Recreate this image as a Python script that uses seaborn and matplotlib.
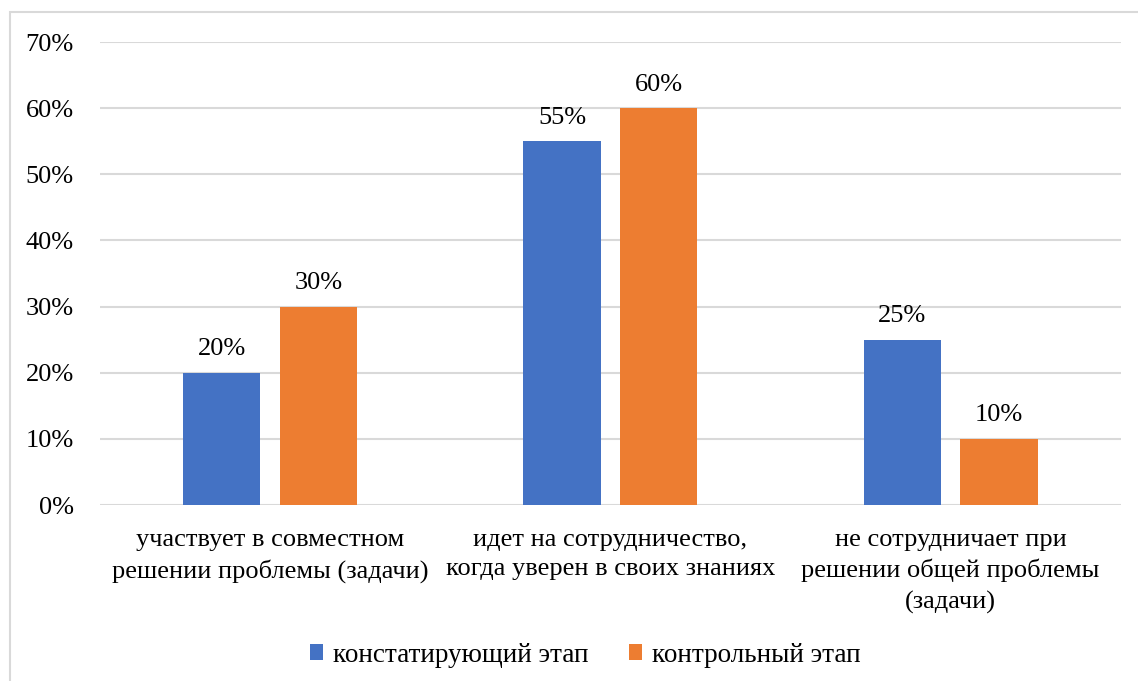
import matplotlib
matplotlib.use("Agg")
import matplotlib.pyplot as plt
import seaborn as sns
import pandas as pd
from matplotlib.patches import Rectangle
from matplotlib.ticker import PercentFormatter

# Данные диаграммы
categories = [
    "участвует в совместном\nрешении проблемы (задачи)",
    "идет на сотрудничество,\nкогда уверен в своих знаниях",
    "не сотрудничает при\nрешении общей проблемы\n(задачи)",
]
series_names = ["констатирующий этап", "контрольный этап"]
stage1 = [20, 55, 25]
stage2 = [30, 60, 10]
colors = ["#4472C4", "#ED7D31"]

df = pd.DataFrame({
    "Категория": categories * 2,
    "Этап": [series_names[0]] * 3 + [series_names[1]] * 3,
    "Значение": stage1 + stage2,
})

sns.set_style("white")
plt.rcParams["font.family"] = ["Liberation Serif", "DejaVu Serif"]
plt.rcParams["text.color"] = "black"
plt.rcParams["xtick.color"] = "black"
plt.rcParams["ytick.color"] = "black"

fig = plt.figure(figsize=(11.38, 6.81), dpi=100)
ax = fig.add_axes([0.0879, 0.2584, 0.897, 0.6799])

sns.barplot(data=df, x="Категория", y="Значение", hue="Этап",
            palette=colors, saturation=1, width=0.568, gap=0.2,
            linewidth=0, ax=ax, legend=True)

ax.set_ylim(0, 70)
ax.set_xlim(-0.5, 2.5)
ax.set_yticks(range(0, 71, 10))
ax.yaxis.set_major_formatter(PercentFormatter(decimals=0))
ax.grid(axis="y", color="#D9D9D9", linewidth=1.5)
ax.set_axisbelow(True)
for s in ax.spines.values():
    s.set_visible(False)
ax.tick_params(axis="both", length=0, labelsize=19, labelcolor="black")
ax.tick_params(axis="y", pad=19)
ax.tick_params(axis="x", pad=17)
for t in ax.get_xticklabels():
    t.set_linespacing(1.45)
ax.set_xlabel("")
ax.set_ylabel("")

for cont in ax.containers:
    ax.bar_label(cont, labels=[f"{v:.0f}%" for v in cont.datavalues],
                 fontsize=19, padding=9, color="black")

handles, labels = ax.get_legend_handles_labels()
ax.legend(handles, labels, loc="center", bbox_to_anchor=(585 / 1138, 1 - 655 / 681),
          bbox_transform=fig.transFigure, ncol=2, frameon=False, fontsize=19.5,
          handlelength=0.5, handleheight=0.5, handletextpad=0.35, columnspacing=1.5)

# рамка вокруг области диаграммы
fig.patches.append(Rectangle((10 / 1138, -0.1), 1.2, 1 - 12 / 681 + 0.1,
                             transform=fig.transFigure, fill=False,
                             edgecolor="#D9D9D9", linewidth=1.5))

fig.savefig("out.png", dpi=100)
